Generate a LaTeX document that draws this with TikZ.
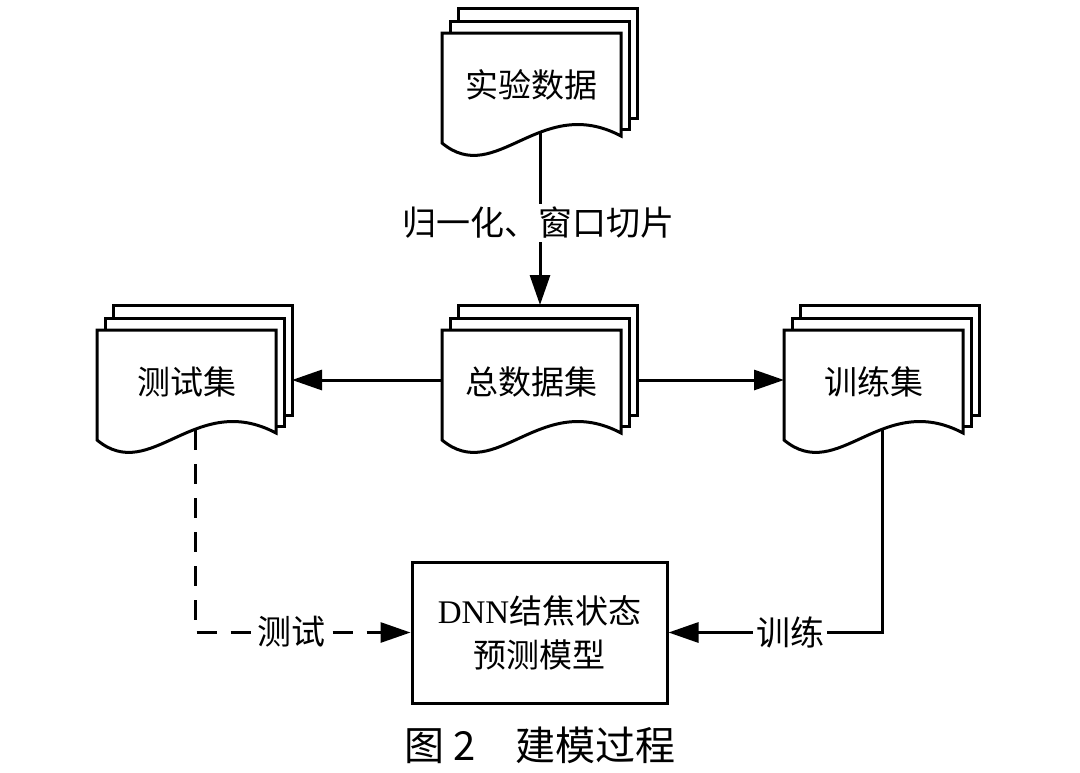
\documentclass[tikz,border=0pt]{standalone}
\usepackage{fontspec}
\setmainfont{Noto Sans CJK SC}
\newfontfamily\latserif{Liberation Serif}
\usetikzlibrary{arrows.meta}
\pgfdeclarelayer{background}
\pgfsetlayers{background,main}
\tikzset{
  docline/.style={line width=3pt, fill=white, line join=miter},
  doctext/.style={font=\fontsize{33}{40}\selectfont, inner sep=0pt},
  conn/.style={line width=3pt, -{Triangle[length=30pt,width=20pt]}},
  lbl/.style={fill=white, inner sep=3pt, font=\fontsize{34}{40}\selectfont},
  modelbox/.style={draw, line width=3pt, minimum width=255pt, minimum height=141pt, align=center, inner sep=0pt, font=\fontsize{33}{44}\selectfont},
  dashline/.style={dash pattern=on 20pt off 14pt}
}
\newcommand\multidoc[4]{%
  \draw[docline] (#2+16,#3) -- (#2+16,#3-25) -- (#2+195,#3-25) -- (#2+195,#3+85) -- (#2+179,#3+85);
  \draw[docline] (#2+8,#3) -- (#2+8,#3-12) -- (#2+187,#3-12) -- (#2+187,#3+96) -- (#2+179,#3+96);
  \draw[docline] (#2,#3) -- (#2+179,#3) -- (#2+179,#3+103)
    .. controls (#2+98,#3+60) and (#2+54,#3+155) .. (#2,#3+110) -- cycle;
  \node[doctext] (#1) at (#2+89.5,#3+52) {#4};
  \coordinate (#1-b) at (#2+98,#3+100);
  \coordinate (#1-fl) at (#2,#3+50);
  \coordinate (#1-br) at (#2+195,#3+50);
  \coordinate (#1-bt) at (#2+98,#3-25);
}
\begin{document}
\begin{tikzpicture}[x=1pt,y=-1pt]
\useasboundingbox (0,0) rectangle (1080,772);
\multidoc{exp}{442}{33}{实验数据}
\multidoc{all}{442}{330}{总数据集}
\multidoc{test}{97}{330}{测试集}
\multidoc{train}{784}{330}{训练集}
\node[modelbox] (model) at (539.5,632.5) {{\latserif DNN}结焦状态\\预测模型};
\node[font=\fontsize{40}{44}\selectfont, inner sep=0pt] (cap) at (540,745) {图 2\hspace{1em}建模过程};
\begin{pgfonlayer}{background}
  \draw[conn] (exp-b) -- (all-bt);
  \draw[conn] (all-fl) -- (test-br);
  \draw[conn] (all-br) -- (train-fl);
  \draw[conn, dashline] (test-b) |- (model.west);
  \draw[conn] (train-b) |- (model.east);
\end{pgfonlayer}
\node[lbl] (l1) at (538,223) {归一化、窗口切片};
\node[lbl] (l2) at (291,632) {测试};
\node[lbl] (l3) at (790,632) {训练};
\end{tikzpicture}
\end{document}
